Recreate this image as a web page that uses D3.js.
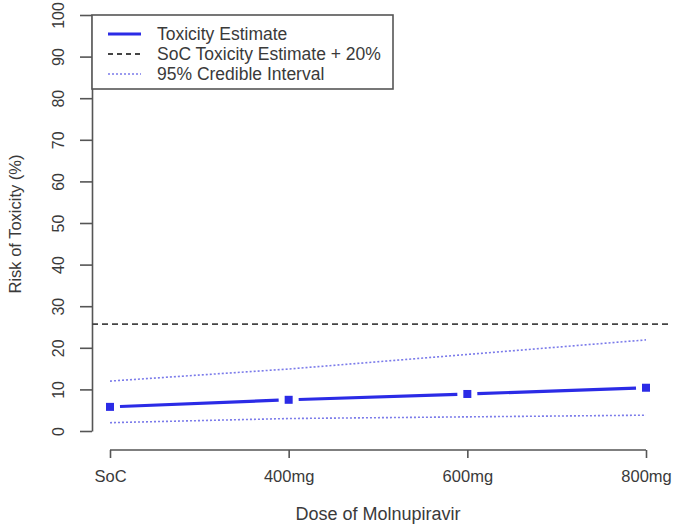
<!DOCTYPE html>
<html>
<head>
<meta charset="utf-8">
<script src="https://cdn.jsdelivr.net/npm/d3@7"></script>
<style>
  body { margin: 0; background: #fff; }
  text { font-family: "Liberation Sans", Arial, sans-serif; }
</style>
</head>
<body>
<div id="container"></div>
<script>
/* DATA */
const doses = ["SoC", "400mg", "600mg", "800mg"];
const estimate = [5.8, 7.5, 8.9, 10.4];
const upperCI = [12.0, 14.9, 18.4, 21.9];
const lowerCI = [2.0, 3.0, 3.4, 3.8];
const socThreshold = 25.7;
const yTicks = [0, 10, 20, 30, 40, 50, 60, 70, 80, 90, 100];
const legendLabels = ["Toxicity Estimate", "SoC Toxicity Estimate + 20%", "95% Credible Interval"];

/* CONSTANTS */
const width = 680;
const height = 527;
const blue = "#2b2be6";
const ciBlue = "#7b7bea";
const grey = "#555";
const textColor = "#3a3a3a";

const svg = d3.select("#container")
  .append("svg")
  .attr("width", width)
  .attr("height", height);

/* SCALES */
const xScale = d3.scalePoint()
  .domain(doses)
  .range([110, 646]);

const yScale = d3.scaleLinear()
  .domain([0, 100])
  .range([431, 15]);

// y axis
const yAxis = svg.append("g")
  .attr("transform", "translate(92, 0)")
  .call(d3.axisLeft(yScale).tickValues(yTicks).tickSize(12).tickSizeOuter(0));
yAxis.selectAll("path, line").attr("stroke", grey).attr("stroke-width", 1.6);
yAxis.selectAll(".tick text")
  .attr("x", 0)
  .attr("y", 0)
  .attr("dy", "0.35em")
  .attr("transform", "translate(-34,0) rotate(-90)")
  .style("text-anchor", "middle")
  .style("font-size", "16px")
  .attr("fill", textColor);

// x axis
const xAxis = svg.append("g")
  .attr("transform", "translate(0, 450)")
  .call(d3.axisBottom(xScale).tickSize(8).tickSizeOuter(0).tickPadding(12));
xAxis.select(".domain").attr("d", `M${xScale("SoC")},0H${xScale("800mg")}`);
xAxis.selectAll("path, line").attr("stroke", grey).attr("stroke-width", 1.6);
xAxis.selectAll("text").style("font-size", "16.5px").attr("fill", textColor);

// axis titles
svg.append("text")
  .attr("x", 378)
  .attr("y", 520)
  .attr("text-anchor", "middle")
  .style("font-size", "18px")
  .attr("fill", textColor)
  .text("Dose of Molnupiravir");

svg.append("text")
  .attr("transform", "translate(21, 224) rotate(-90)")
  .attr("text-anchor", "middle")
  .style("font-size", "16.5px")
  .attr("fill", textColor)
  .text("Risk of Toxicity (%)");

// threshold line
svg.append("line")
  .attr("x1", 92)
  .attr("x2", 668)
  .attr("y1", yScale(socThreshold))
  .attr("y2", yScale(socThreshold))
  .attr("stroke", "#444")
  .attr("stroke-width", 1.8)
  .attr("stroke-dasharray", "6,4");

// credible intervals
const line = d3.line()
  .x((d, i) => xScale(doses[i]))
  .y(d => yScale(d));

[upperCI, lowerCI].forEach(ci => {
  svg.append("path")
    .attr("d", line(ci))
    .attr("fill", "none")
    .attr("stroke", ciBlue)
    .attr("stroke-width", 1.6)
    .attr("stroke-dasharray", "2,2");
});

// estimate segments (gaps around points)
const gap = 10;
for (let i = 0; i < doses.length - 1; i++) {
  const x0 = xScale(doses[i]), x1 = xScale(doses[i + 1]);
  const y0 = yScale(estimate[i]), y1 = yScale(estimate[i + 1]);
  const len = Math.hypot(x1 - x0, y1 - y0);
  const ux = (x1 - x0) / len, uy = (y1 - y0) / len;
  svg.append("line")
    .attr("x1", x0 + ux * gap)
    .attr("y1", y0 + uy * gap)
    .attr("x2", x1 - ux * gap)
    .attr("y2", y1 - uy * gap)
    .attr("stroke", blue)
    .attr("stroke-width", 3.2);
}

svg.selectAll(".pt")
  .data(estimate)
  .join("rect")
  .attr("class", "pt")
  .attr("x", (d, i) => xScale(doses[i]) - 4)
  .attr("y", d => yScale(d) - 4)
  .attr("width", 8)
  .attr("height", 8)
  .attr("fill", blue);

// legend
svg.append("rect")
  .attr("x", 92)
  .attr("y", 15)
  .attr("width", 301)
  .attr("height", 74)
  .attr("fill", "#fff")
  .attr("stroke", grey)
  .attr("stroke-width", 1.6);

const legendStyles = [
  { color: blue, width: 3, dash: null },
  { color: "#444", width: 1.8, dash: "5,4" },
  { color: ciBlue, width: 1.6, dash: "2,2" }
];
legendLabels.forEach((label, i) => {
  const y = 34 + i * 20;
  svg.append("line")
    .attr("x1", 108).attr("x2", 141)
    .attr("y1", y).attr("y2", y)
    .attr("stroke", legendStyles[i].color)
    .attr("stroke-width", legendStyles[i].width)
    .attr("stroke-dasharray", legendStyles[i].dash);
  svg.append("text")
    .attr("x", 157)
    .attr("y", y)
    .attr("dy", "0.35em")
    .style("font-size", "17.5px")
    .attr("fill", textColor)
    .text(label);
});
</script>
</body>
</html>
